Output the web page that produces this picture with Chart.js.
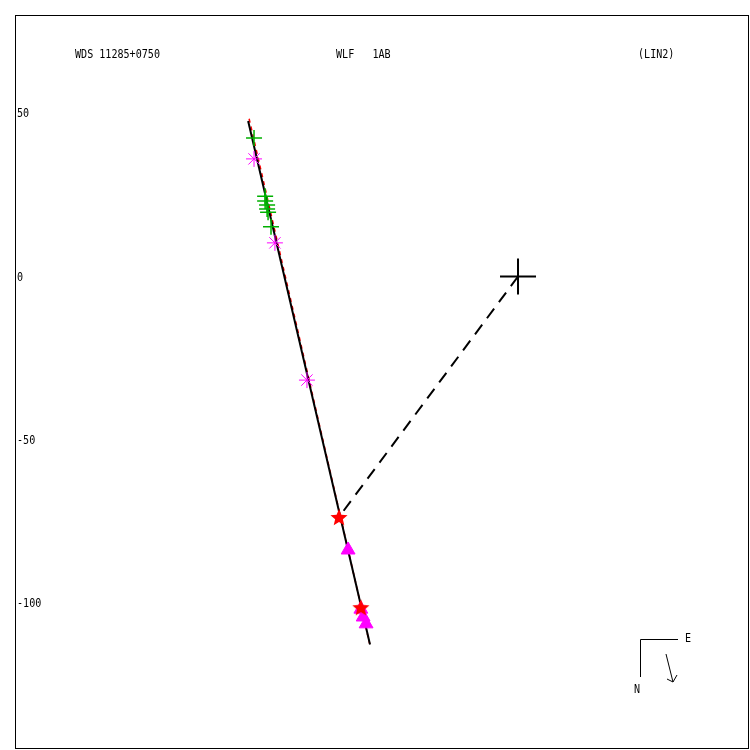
<!DOCTYPE html>
<html><head><meta charset="utf-8">
<script src="https://cdn.jsdelivr.net/npm/chart.js@4/dist/chart.umd.min.js"></script>
<style>html,body{margin:0;padding:0;background:#fff}</style>
</head><body>
<canvas id="c" width="750" height="750"></canvas>
<script>
// ---- data (arcsec-like units) ----
const greenX = [-80.8, -77.4, -77.4, -76.8, -76.8, -76.5, -75.6];
const greenY = [42.4, 24.6, 23.1, 21.9, 20.7, 19.7, 15.2];
const astX = [-80.8, -74.4, -64.6];
const astY = [36.0, 10.3, -31.7];
const starX = [-54.8, -48.1];
const starY = [-73.9, -101.5];
const triX = [-52.0, -48.1, -47.4, -46.5];
const triY = [-83.7, -101.8, -104.2, -106.3];
const fitX = [-82.6, -45.3];
const fitY = [47.6, -112.6];
const redX = [-82.3, -45.4];
const redY = [48.3, -112.4];
const sepX = [0, -54.8];
const sepY = [0, -73.6];
const primaryX = [0];
const primaryY = [0];
const yTicks = [50, 0, -50, -100];
const titles = ["WDS 11285+0750", "WLF   1AB", "(LIN2)"];
const compassLabels = ["E", "N"];

const pts = (xs, ys) => xs.map((x, i) => ({x, y: ys[i]}));

function makeStar(r, color) {
  const c = document.createElement('canvas');
  c.width = c.height = 2 * r + 2;
  const g = c.getContext('2d');
  g.fillStyle = color;
  g.beginPath();
  for (let i = 0; i < 10; i++) {
    const rr = i % 2 === 0 ? r : r * 0.45;
    const a = -Math.PI / 2 + i * Math.PI / 5;
    const px = r + 1 + rr * Math.cos(a), py = r + 1 + rr * Math.sin(a);
    i ? g.lineTo(px, py) : g.moveTo(px, py);
  }
  g.closePath();
  g.fill();
  return c;
}
const redStar = makeStar(9, '#ff0000');

function txt(ctx, s, x, y) {
  ctx.save();
  ctx.translate(x, y);
  ctx.scale(0.84, 1);
  ctx.fillText(s, 0, 0);
  ctx.restore();
}

const deco = {
  id: 'deco',
  afterDatasetsDraw(chart) {
    const ctx = chart.ctx, ca = chart.chartArea, ys = chart.scales.y;
    ctx.save();
    // frame
    ctx.strokeStyle = '#000'; ctx.lineWidth = 1;
    ctx.strokeRect(ca.left + 0.5, ca.top + 0.5, ca.right - ca.left - 1, ca.bottom - ca.top - 1);
    ctx.fillStyle = '#000';
    ctx.font = '12px "DejaVu Sans Mono", monospace';
    ctx.textBaseline = 'middle';
    ctx.textAlign = 'left';
    // titles
    txt(ctx, titles[0], 75, 55);
    txt(ctx, titles[1], 336, 55);
    txt(ctx, titles[2], 638, 55);
    // y labels
    yTicks.forEach(v => txt(ctx, String(v), ca.left + 2, ys.getPixelForValue(v) + 1));
    // compass
    ctx.lineWidth = 1;
    ctx.beginPath();
    ctx.moveTo(678, 639.5); ctx.lineTo(640.5, 639.5); ctx.lineTo(640.5, 677);
    ctx.stroke();
    txt(ctx, compassLabels[0], 685, 639);
    txt(ctx, compassLabels[1], 634, 690);
    ctx.beginPath();
    ctx.moveTo(666, 654); ctx.lineTo(673, 682);
    ctx.moveTo(667, 679); ctx.lineTo(673, 682); ctx.lineTo(677, 675);
    ctx.stroke();
    ctx.restore();
  }
};

new Chart(document.getElementById('c'), {
  type: 'scatter',
  data: {
    datasets: [
      {data: pts(starX, starY), pointStyle: redStar, order: 0},
      {data: pts(triX, triY), pointStyle: 'triangle', pointRadius: 8, backgroundColor: '#ff00ff', borderColor: '#ff00ff', borderWidth: 1, order: 1},
      {data: pts(astX, astY), pointStyle: 'star', pointRadius: 8, borderColor: '#ff00ff', backgroundColor: '#ff00ff', borderWidth: 1, order: 2},
      {data: pts(greenX, greenY), pointStyle: 'cross', pointRadius: 8, borderColor: '#00b000', borderWidth: 1.5, order: 3},
      {data: pts(primaryX, primaryY), pointStyle: 'cross', pointRadius: 18, borderColor: '#000', borderWidth: 2, order: 4},
      {type: 'line', data: pts(sepX, sepY), showLine: true, pointRadius: 0, borderColor: '#000', borderWidth: 2, borderDash: [12, 8], order: 5},
      {type: 'line', data: pts(fitX, fitY), showLine: true, pointRadius: 0, borderColor: '#000', borderWidth: 2, order: 6},
      {type: 'line', data: pts(redX, redY), showLine: true, pointRadius: 0, borderColor: '#ff0000', borderWidth: 1.5, borderDash: [4, 4], order: 7}
    ]
  },
  options: {
    responsive: false,
    animation: false,
    events: [],
    layout: {autoPadding: false, padding: {left: 15, top: 15, right: 1, bottom: 1}},
    plugins: {legend: {display: false}, tooltip: {enabled: false}},
    scales: {
      x: {type: 'linear', display: false, min: -153.96, max: 70.7},
      y: {type: 'linear', display: false, min: -144.6, max: 80.04}
    }
  },
  plugins: [deco]
});
</script>
</body></html>
